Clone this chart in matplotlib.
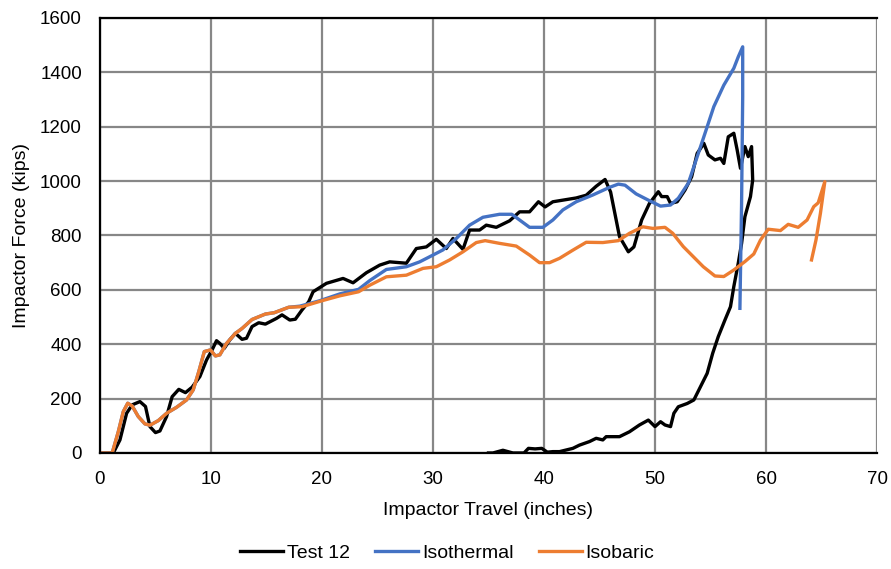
import matplotlib
matplotlib.use("Agg")
import matplotlib.pyplot as plt

plt.rcParams['font.family'] = ['Liberation Sans', 'DejaVu Sans']

# Test 12 : chargement puis déchargement
test_x = [0, 1.2, 1.8, 2.4, 2.9, 3.6, 4.1, 4.5, 5.0, 5.4, 6.0, 6.5, 7.1, 7.7, 8.3, 9.0, 9.6, 10.1, 10.5, 10.8,
          11.2, 11.7, 12.2, 12.8, 13.2, 13.7, 14.3, 14.9, 15.9, 16.4, 17.1, 17.6, 18.2, 18.8, 19.2, 20.4, 21.9,
          22.8, 24.0, 25.2, 26.1, 27.6, 28.5, 29.4, 30.3, 31.2, 31.8, 32.7, 33.3, 34.2, 34.8, 35.7, 36.9, 37.8,
          38.7, 39.5, 40.1, 40.8, 42.0, 42.9, 43.8, 44.7, 45.5, 46.0, 46.8, 47.6, 48.1, 48.8, 49.5, 50.3, 50.6,
          51.1, 51.4, 52.0, 52.7, 53.3, 53.8, 54.1, 54.4, 54.8, 55.4, 55.9, 56.2, 56.6, 57.1, 57.4, 57.7, 58.1,
          58.4, 58.7,
          58.8, 58.6, 58.1, 57.8, 57.5, 57.1, 56.8, 56.3, 55.7, 55.2, 54.7, 54.1, 53.5, 52.9, 52.1, 51.7, 51.4,
          50.9, 50.5, 50.0, 49.4, 48.6, 47.7, 46.8, 45.6, 45.3, 44.7, 44.1, 43.2, 42.6, 41.9, 41.4, 40.8, 40.3,
          39.8, 39.2, 38.6, 38.2, 37.2, 36.3, 35.4, 35.0]
test_y = [0, 0, 48, 146, 177, 189, 171, 97, 75, 81, 134, 207, 234, 222, 242, 281, 342, 379, 413, 403,
          385, 416, 440, 418, 422, 465, 479, 474, 495, 508, 489, 492, 526, 556, 593, 624, 642,
          626, 663, 691, 703, 698, 752, 758, 786, 752, 789, 749, 820, 820, 838, 830, 854, 887,
          887, 924, 905, 924, 932, 938, 948, 981, 1006, 960, 796, 740, 758, 857, 918, 961, 943,
          943, 918, 924, 967, 1016, 1102, 1120, 1139, 1096, 1078, 1084, 1065, 1163, 1176, 1115, 1047, 1127,
          1090, 1127,
          1004, 943, 869, 771, 698, 612, 538, 489, 428, 367, 293, 244, 195, 182, 170, 146, 97,
          103, 115, 97, 121, 103, 78, 60, 60, 48, 54, 42, 29, 17, 10, 5, 5, 3,
          17, 15, 17, 0, 0, 10, 0, 0]

# Isothermal
iso_t_x = [0, 1.1, 1.65, 2.1, 2.5, 2.9, 3.45, 4.05, 4.5, 5.25, 6.0, 6.9, 7.8, 8.4, 8.9, 9.4, 9.95, 10.4, 10.8,
           11.4, 12.2, 12.8, 13.7, 14.9, 15.7, 17.0, 18.0, 19.8, 21.6, 23.3, 24.3, 25.8, 27.6, 28.8, 30.0, 30.9,
           32.1, 33.3, 34.5, 36.0, 37.1, 37.8, 38.7, 39.9, 40.8, 41.7, 42.9, 44.4, 45.9, 46.7, 47.3, 48.3, 49.4,
           50.5, 51.4, 52.1, 53.0, 53.6, 54.4, 55.3, 56.2, 57.1, 57.5, 57.9, 57.9, 57.8, 57.65]
iso_t_y = [0, 0, 78, 152, 183, 173, 134, 107, 102, 119, 146, 168, 195, 232, 299, 373, 379, 357, 361,
           403, 440, 458, 491, 511, 516, 536, 540, 560, 585, 602, 634, 675, 685, 703, 728, 747,
           789, 838, 867, 878, 878, 857, 830, 830, 857, 894, 924, 949, 977, 989, 985, 953, 930,
           908, 912, 937, 992, 1065, 1163, 1274, 1353, 1415, 1457, 1494, 1310, 918, 532]

# Isobaric
iso_b_x = [0, 1.1, 1.65, 2.1, 2.5, 2.9, 3.45, 4.05, 4.5, 5.25, 6.0, 6.9, 7.8, 8.4, 8.9, 9.4, 9.95, 10.4, 10.8,
           11.4, 12.2, 12.8, 13.7, 14.9, 15.7, 17.0, 18.2, 20.0, 21.6, 23.3, 24.3, 25.8, 27.6, 29.1, 30.3, 31.5,
           32.7, 33.9, 34.7, 36.0, 37.5, 38.7, 39.6, 40.5, 41.4, 42.6, 43.8, 45.3, 46.7, 47.7, 48.9, 49.8, 50.9,
           51.6, 52.55, 53.45, 54.35, 55.4, 56.2, 57.1, 58.1, 58.9, 59.5, 60.2, 61.3, 62.0, 62.9, 63.7, 64.3,
           64.7, 65.3, 64.9, 64.5, 64.1]
iso_b_y = [0, 0, 78, 152, 183, 173, 134, 107, 102, 119, 146, 168, 195, 232, 299, 373, 379, 357, 361,
           403, 440, 458, 491, 511, 516, 536, 538, 560, 578, 593, 617, 648, 654, 679, 685, 710,
           740, 774, 781, 771, 761, 728, 700, 700, 716, 746, 775, 774, 781, 808, 832, 826, 830,
           808, 759, 722, 685, 651, 649, 673, 704, 732, 783, 823, 818, 841, 830, 857, 906,
           920, 998, 881, 783, 710]

x_ticks = [0, 10, 20, 30, 40, 50, 60, 70]
y_ticks = [0, 200, 400, 600, 800, 1000, 1200, 1400, 1600]

fig = plt.figure(figsize=(8.91, 5.69), dpi=100)
ax = fig.add_axes([0.1122, 0.2039, 0.8721, 0.7645])

ax.plot(test_x, test_y, color='black', lw=2.4, solid_joinstyle='round', label='Test 12')
ax.plot(iso_t_x, iso_t_y, color='#4472C4', lw=2.4, solid_joinstyle='round', label='Isothermal')
ax.plot(iso_b_x, iso_b_y, color='#ED7D31', lw=2.4, solid_joinstyle='round', label='Isobaric')

ax.set_xlim(0, 70)
ax.set_ylim(0, 1600)
ax.set_xticks(x_ticks)
ax.set_yticks(y_ticks)
ax.grid(True, color='#878787', lw=1.6)
ax.set_axisbelow(True)
ax.tick_params(length=0, labelsize=13.5)
ax.tick_params(axis='y', pad=13)
ax.tick_params(axis='x', pad=13)
for s in ['left', 'bottom', 'top']:
    ax.spines[s].set_color('black')
    ax.spines[s].set_linewidth(1.6)
ax.spines['right'].set_visible(False)

ax.set_xlabel("Impactor Travel (inches)", fontsize=14, labelpad=10)
ax.set_ylabel("Impactor Force (kips)", fontsize=14, labelpad=7)

fig.legend(loc='center', bbox_to_anchor=(0.502, 0.028), ncol=3, frameon=False, fontsize=14,
           handlelength=2.2, handletextpad=0.2, columnspacing=1.3)

fig.savefig("out.png", dpi=100)
